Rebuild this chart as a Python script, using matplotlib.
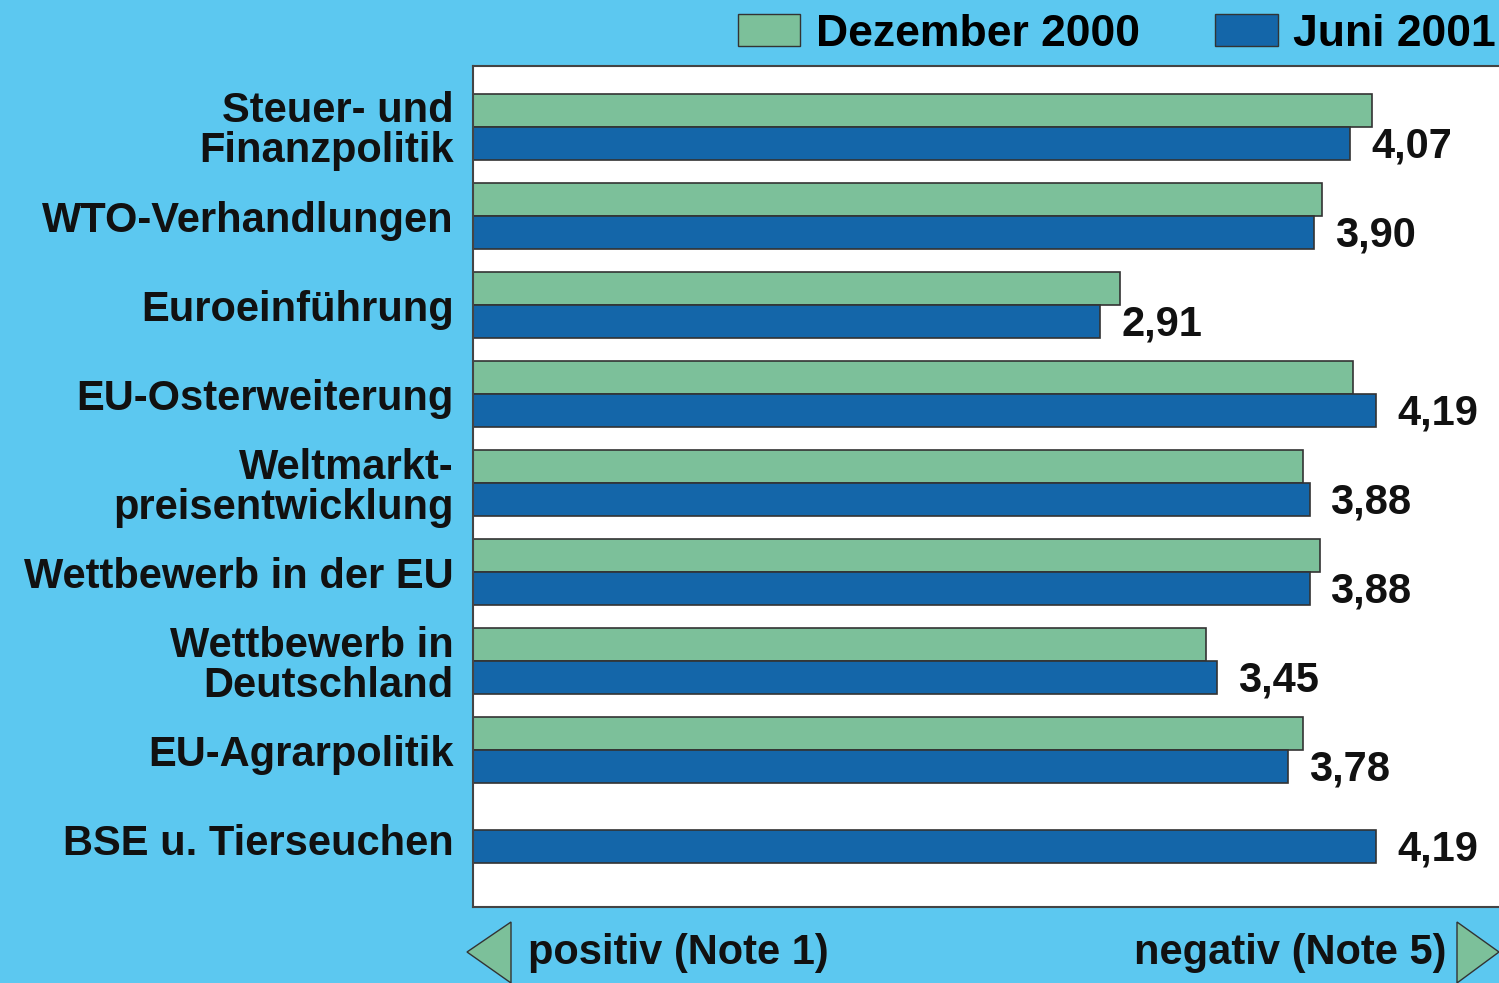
import matplotlib.pyplot as plt
from matplotlib.patches import Patch, Polygon
import numpy as np

plt.rcParams['font.family'] = ['Liberation Sans', 'DejaVu Sans']
plt.rcParams['font.weight'] = 'bold'

# Daten
themen = ['Steuer- und\nFinanzpolitik', 'WTO-Verhandlungen', 'Euroeinführung',
          'EU-Osterweiterung', 'Weltmarkt-\npreisentwicklung', 'Wettbewerb in der EU',
          'Wettbewerb in\nDeutschland', 'EU-Agrarpolitik', 'BSE u. Tierseuchen']
dez_2000 = [4.17, 3.94, 3.00, 4.08, 3.85, 3.93, 3.40, 3.85, np.nan]
juni_2001 = [4.07, 3.90, 2.91, 4.19, 3.88, 3.88, 3.45, 3.78, 4.19]
labels_2001 = ['4,07', '3,90', '2,91', '4,19', '3,88', '3,88', '3,45', '3,78', '4,19']

hellblau = '#5CC8F0'
gruen = '#7CC09A'
blau = '#1466A9'

fig = plt.figure(figsize=(14.99, 9.83), dpi=100)
fig.patch.set_facecolor(hellblau)
ax = fig.add_axes([473/1499, 1-907/983, 0.69, 841/983])
ax.set_facecolor('white')

y = np.arange(len(themen))
h = 0.37
for i in range(len(themen)):
    if np.isnan(dez_2000[i]):
        # nur ein Balken, etwas nach unten versetzt wie im Original
        yb = y[i] + 0.08
        ax.barh(yb, juni_2001[i], height=h, color=blau, edgecolor='#333333', linewidth=1.2)
    else:
        ax.barh(y[i] - h/2, dez_2000[i], height=h, color=gruen, edgecolor='#333333', linewidth=1.2)
        ax.barh(y[i] + h/2, juni_2001[i], height=h, color=blau, edgecolor='#333333', linewidth=1.2)
        yb = y[i] + h/2
    ax.annotate(labels_2001[i], (juni_2001[i], yb), xytext=(15, -2), textcoords='offset points',
                va='center', ha='left', fontsize=30, fontweight='bold', color='#111111')

ax.set_xlim(0, 0.69*1499/215.6)
ax.set_ylim(8.76, -0.685)
ax.set_xticks([])
ax.set_yticks(y)
ax.set_yticklabels(themen, fontsize=30, fontweight='bold', color='#111111', linespacing=1.0)
ax.tick_params(axis='y', length=0, pad=14)
for s in ax.spines.values():
    s.set_color('#444444')
    s.set_linewidth(1.5)

# Legende
handles = [Patch(facecolor=gruen, edgecolor='#333333', label='Dezember 2000'),
           Patch(facecolor=blau, edgecolor='#333333', label='Juni 2001')]
fig.legend(handles=handles, loc='center right', bbox_to_anchor=(0.998, 1-34/983),
           ncol=2, frameon=False, fontsize=32, handlelength=1.4, handleheight=0.75,
           handletextpad=0.35, columnspacing=1.7, borderpad=0, borderaxespad=0)

# Pfeile unten
fig.patches.append(Polygon([[467/1499, 1-952/983], [511/1499, 1-922/983], [511/1499, 0]],
                           closed=True, facecolor=gruen, edgecolor='#333333', linewidth=1,
                           transform=fig.transFigure, figure=fig))
fig.patches.append(Polygon([[1499/1499, 1-952/983], [1457/1499, 1-922/983], [1457/1499, 0]],
                           closed=True, facecolor=gruen, edgecolor='#333333', linewidth=1,
                           transform=fig.transFigure, figure=fig))
fig.text(528/1499, 1-953/983, 'positiv (Note 1)', fontsize=30, fontweight='bold',
         color='#111111', va='center', ha='left')
fig.text(1447/1499, 1-953/983, 'negativ (Note 5)', fontsize=30, fontweight='bold',
         color='#111111', va='center', ha='right')

fig.savefig('out.png', dpi=100, facecolor=fig.get_facecolor())
